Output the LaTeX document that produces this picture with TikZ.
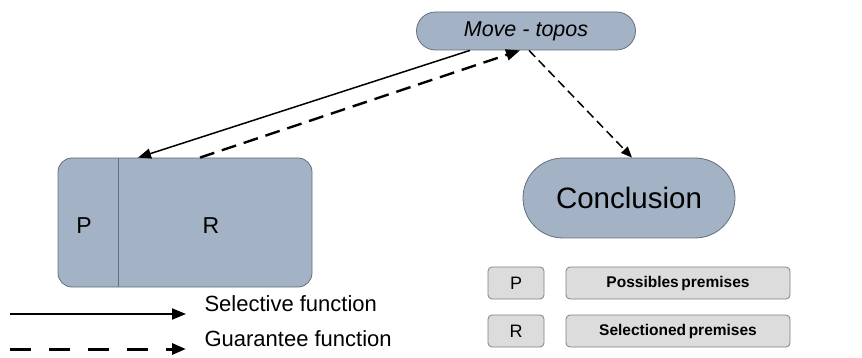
\documentclass[tikz,border=0pt]{standalone}
\usepackage{fontspec}
\setmainfont{Liberation Sans}
\usepackage{tikz}
\usetikzlibrary{arrows.meta}

\definecolor{boxblue}{RGB}{163,178,196}
\definecolor{boxline}{RGB}{100,110,125}
\definecolor{keygray}{RGB}{220,220,220}

\begin{document}
\begin{tikzpicture}[x=1pt,y=-1pt]
  \useasboundingbox (0,0) rectangle (862,358);
  \tikzset{
    blob/.style={draw=boxline,fill=boxblue,line width=0.8pt,inner sep=0pt},
    keybox/.style={draw=gray,fill=keygray,line width=0.8pt,rounded corners=4pt,
      minimum height=32pt,inner sep=0pt},
    tip/.style={-{Triangle[length=14pt,width=11pt]}},
  }
  \node[blob,rounded corners=19pt,minimum width=219pt,minimum height=38pt]
    (topos) at (526,31) {\fontsize{21.5}{24}\selectfont\itshape Move - topos};
  \node[blob,rounded corners=14pt,minimum width=254pt,minimum height=129pt]
    (box) at (185,222.5) {};
  \draw[boxline,line width=0.8pt] ([xshift=-67pt]box.north) -- ([xshift=-67pt]box.south);
  \node (p) at (84,226) {\fontsize{23}{26}\selectfont P};
  \node (r) at (211,226) {\fontsize{23}{26}\selectfont R};
  \node[blob,rounded corners=40pt,minimum width=212pt,minimum height=80pt]
    (concl) at (629,198) {\fontsize{29.5}{32}\selectfont Conclusion};
  \draw[line width=1.5pt,-{Triangle[length=13pt,width=10pt]}] ([xshift=-56pt]topos.south) -- ([xshift=-47pt]box.north);
  \draw[line width=2.4pt,dash pattern=on 15pt off 8pt,tip] ([xshift=15pt]box.north) -- ([xshift=-6pt]topos.south);
  \draw[line width=1.5pt,dash pattern=on 9pt off 5pt,-{Triangle[length=11pt,width=9pt]}] ([xshift=3pt]topos.south) -- ([xshift=3pt]concl.north);
  % legend
  \coordinate (sa) at (10,314);
  \coordinate (sb) at (186,314);
  \coordinate (ga) at (10,349);
  \coordinate (gb) at (186,349);
  \draw[line width=1.8pt,tip] (sa) -- (sb);
  \draw[line width=3pt,dash pattern=on 21pt off 18pt,tip] (ga) -- (gb);
  \node[anchor=west] (sel) at (201,304) {\fontsize{22}{24}\selectfont Selective function};
  \node[anchor=west] (gua) at (201,339) {\fontsize{22}{24}\selectfont Guarantee function};
  \node[keybox,minimum width=56pt] (kp) at (516,283) {\fontsize{18}{20}\selectfont P};
  \node[keybox,minimum width=56pt] (kr) at (516,331) {\fontsize{18}{20}\selectfont R};
  \node[keybox,minimum width=224pt] (kpt) at (678,283) {\fontsize{15.5}{18}\selectfont\bfseries Possibles\,premises};
  \node[keybox,minimum width=224pt] (krt) at (678,331) {\fontsize{15.5}{18}\selectfont\bfseries Selectioned\,premises};
\end{tikzpicture}
\end{document}
